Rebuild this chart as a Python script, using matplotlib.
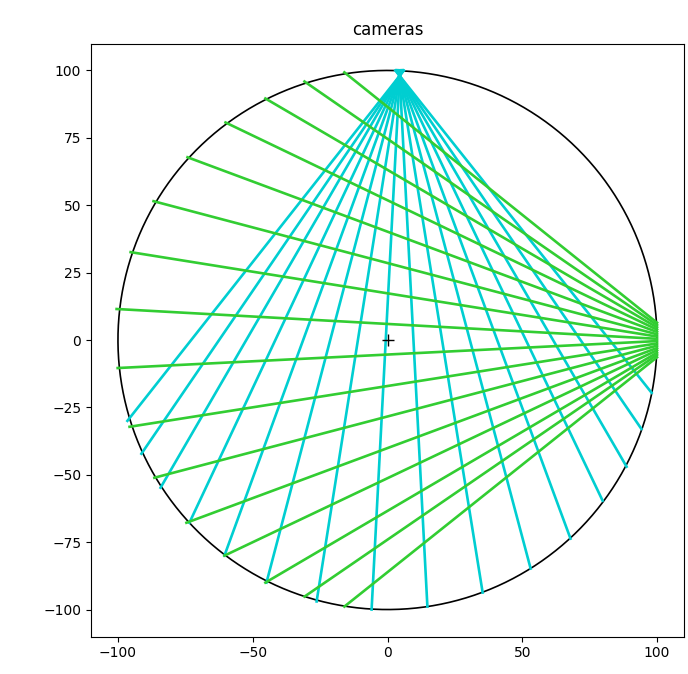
import matplotlib
matplotlib.use("Agg")
import matplotlib.pyplot as plt
import numpy as np

RADIUS = 100

# camera on top: sensor line y=100, pinhole below it
cyan_pinhole = (4.5, 98.0)
cyan_sensor_y = 100.0
# far ends of the cyan rays on the circle
cyan_end_x = [-96.5, -91.3, -84.2, -73.5, -60.5, -44.9, -26.3, -5.9,
              14.8, 35.3, 53.1, 67.9, 79.8, 88.7, 94.2, 98.0]
cyan_end_y = [-30.0, -42.2, -54.8, -67.8, -80.0, -90.0, -97.0, -100.0,
              -98.9, -93.7, -84.8, -73.7, -59.6, -47.0, -33.0, -19.6]

# camera on the right: sensor line x=100, rays fan out from a point behind it
green_focus = (108.0, 0.0)
green_sensor_x = 100.0
green_end_x = [-16.0, -30.8, -45.3, -60.1, -74.2, -86.8, -95.3, -100.5,
               -100.1, -95.7, -86.5, -74.6, -60.5, -45.3, -30.8, -16.0]
green_end_y = [99.3, 95.9, 89.6, 80.7, 67.8, 51.5, 32.6, 11.5,
               -10.4, -32.2, -51.1, -67.8, -80.0, -90.0, -95.2, -98.9]


fig = plt.figure(figsize=(6.88, 6.74), dpi=100)
ax = fig.add_axes([91 / 688, 37 / 674, 593 / 688, 594 / 674])

t = np.linspace(0, 2 * np.pi, 400)
ax.plot(RADIUS * np.cos(t), RADIUS * np.sin(t), color="black", linewidth=1.2)

# cyan rays: sensor point -> pinhole -> far end
px, py = cyan_pinhole
for ex, ey in zip(cyan_end_x, cyan_end_y):
    k = (cyan_sensor_y - py) / (py - ey)
    sx, sy = px + k * (px - ex), cyan_sensor_y
    ax.plot([sx, ex], [sy, ey], color="darkturquoise", linewidth=1.9)

# green rays: start where the line from the focus crosses the sensor
fx, fy = green_focus
for ex, ey in zip(green_end_x, green_end_y):
    k = (green_sensor_x - fx) / (ex - fx)
    sx, sy = green_sensor_x, fy + k * (ey - fy)
    ax.plot([sx, ex], [sy, ey], color="limegreen", linewidth=1.9)

ax.plot([0], [0], marker="+", color="black", markersize=8)

ax.set_xlim(-110, 110)
ax.set_ylim(-110, 110)
ax.set_aspect("equal")
ax.set_xticks([-100, -50, 0, 50, 100])
ax.set_yticks([-100, -75, -50, -25, 0, 25, 50, 75, 100])
ax.set_title("cameras")

fig.savefig("out.png", dpi=100)
